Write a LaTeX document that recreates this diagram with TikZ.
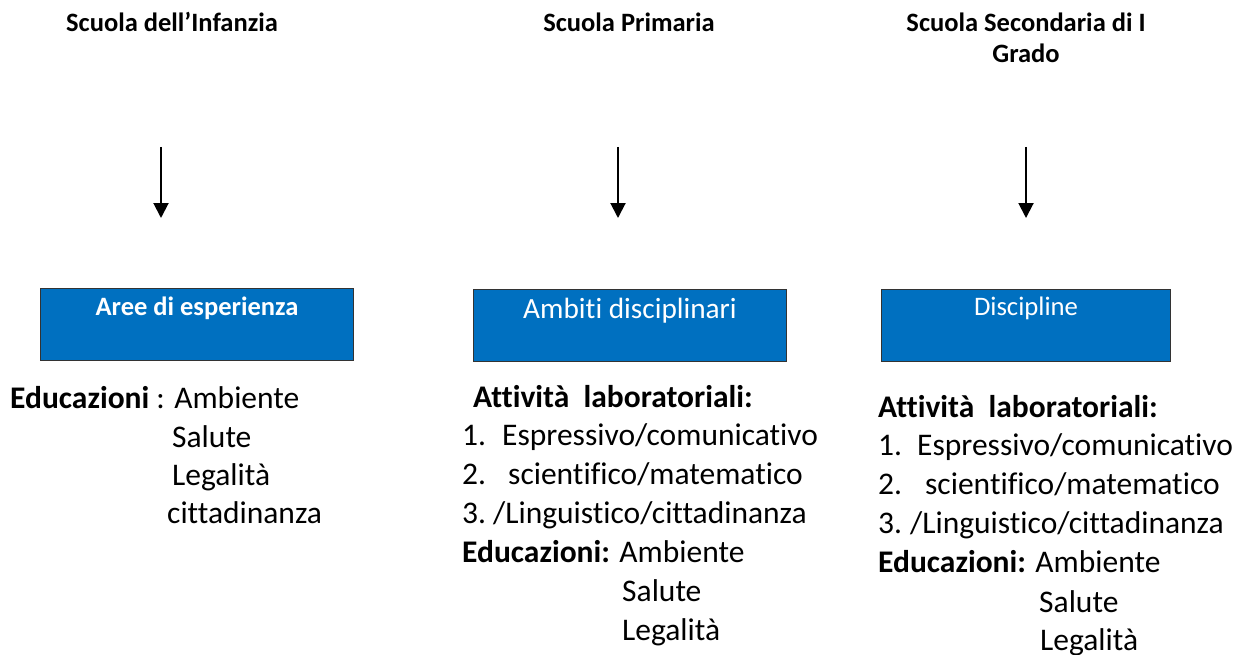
\documentclass[tikz,border=0pt]{standalone}
\usepackage{fontspec}
\setmainfont{Carlito}[Ligatures=NoCommon]
\usetikzlibrary{arrows.meta}
\definecolor{boxblue}{HTML}{0070C0}
\begin{document}
\begin{tikzpicture}[x=1pt,y=-1pt,
  hdr/.style={font=\bfseries\fontsize{26.5}{31}\selectfont, anchor=base, align=center},
  txt/.style={font=\fontsize{31.5}{38}\selectfont, anchor=base west, inner sep=0pt},
  areabox/.style={draw=black!80, line width=1pt, fill=boxblue, minimum width=#1, minimum height=72pt, inner sep=0pt},
  boxtxt/.style={text=white, anchor=base, inner sep=0pt},
  down/.style={line width=2pt, -{Triangle[width=15pt,length=15pt]}}]
\useasboundingbox (0,0) rectangle (1241,655);
% headers
\node[hdr] (hdr1) at (172,32) {Scuola dell’Infanzia};
\node[hdr] (hdr2) at (629,32) {Scuola Primaria};
\node[hdr] (hdr3) at (1026,63) {Scuola Secondaria di I\\Grado};
% arrows
\coordinate (a1s) at (161,147); \coordinate (a1e) at (161,218);
\coordinate (a2s) at (618,147); \coordinate (a2e) at (618,218);
\coordinate (a3s) at (1026,147); \coordinate (a3e) at (1026,218);
\draw[down] (a1s) -- (a1e);
\draw[down] (a2s) -- (a2e);
\draw[down] (a3s) -- (a3e);
% blue boxes
\node[areabox=313pt] (box1) at (197,324.5) {};
\node[areabox=313pt] (box2) at (629.5,325) {};
\node[areabox=289pt] (box3) at (1025.5,325) {};
\node[boxtxt, font=\bfseries\fontsize{26.5}{30}\selectfont] (lbl1) at (197,315) {Aree di esperienza};
\node[boxtxt, font=\fontsize{29.3}{34}\selectfont] (lbl2) at (630,318) {Ambiti disciplinari};
\node[boxtxt, font=\fontsize{26.7}{30}\selectfont] (lbl3) at (1026,315) {Discipline};
% first column
\node[txt] (e1) at (10,408) {\textbf{Educazioni} : Ambiente};
\node[txt] (e1s) at (172,447) {Salute};
\node[txt] (e1l) at (172,485) {Legalità};
\node[txt] (e1c) at (167,523) {cittadinanza};
% second column
\node[txt] (t2) at (473,407) {\textbf{Attività\ \ laboratoriali:}};
\node[txt] (t2a) at (462,445) {\makebox[40pt][l]{1.}Espressivo/comunicativo};
\node[txt] (t2b) at (462,484) {\makebox[46pt][l]{2.}scientifico/matematico};
\node[txt] (t2c) at (462,523) {\makebox[31pt][l]{3.}/Linguistico/cittadinanza};
\node[txt] (e2) at (462,562) {\textbf{Educazioni:} Ambiente};
\node[txt] (e2s) at (622,601) {Salute};
\node[txt] (e2l) at (622,640) {Legalità};
% third column
\node[txt] (t3) at (878,417) {\textbf{Attività\ \ laboratoriali:}};
\node[txt] (t3a) at (878,455) {\makebox[39pt][l]{1.}Espressivo/comunicativo};
\node[txt] (t3b) at (878,494) {\makebox[47pt][l]{2.}scientifico/matematico};
\node[txt] (t3c) at (878,533) {\makebox[32pt][l]{3.}/Linguistico/cittadinanza};
\node[txt] (e3) at (878,572) {\textbf{Educazioni:} Ambiente};
\node[txt] (e3s) at (1039,612) {Salute};
\node[txt] (e3l) at (1040,650) {Legalità};
\end{tikzpicture}
\end{document}
